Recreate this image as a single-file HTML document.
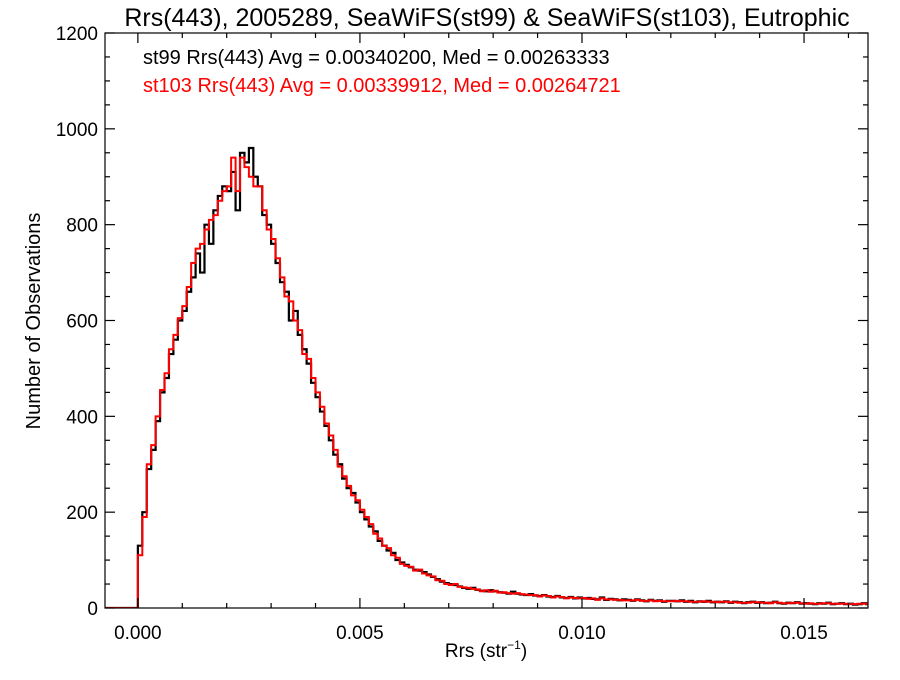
<!DOCTYPE html>
<html><head><meta charset="utf-8"><style>
body{margin:0;background:#fff}
svg text{font-family:"Liberation Sans",sans-serif}
</style></head><body>
<svg id="chart" width="900" height="675" viewBox="0 0 900 675">
<text x="487" y="26" font-size="25" text-anchor="middle">Rrs(443), 2005289, SeaWiFS(st99) &amp; SeaWiFS(st103), Eutrophic</text>
<text x="143" y="64" font-size="20">st99 Rrs(443) Avg = 0.00340200, Med = 0.00263333</text>
<text x="143" y="92" font-size="20" fill="#ff0000">st103 Rrs(443) Avg = 0.00339912, Med = 0.00264721</text>
<text x="486" y="657" font-size="19" text-anchor="middle">Rrs (str<tspan font-size="12" dy="-8">−1</tspan><tspan dy="8">)</tspan></text>
<text transform="translate(40,321) rotate(-90)" font-size="20" text-anchor="middle">Number of Observations</text>
<defs><clipPath id="pc"><rect x="105" y="33" width="763" height="575"/></clipPath></defs>
<g id="series" clip-path="url(#pc)"></g>
<g id="axes"></g>
</svg>
<script>
const binWidth = 0.0001;
const st99 = [130,200,290,330,390,450,480,530,560,600,
620,660,690,740,700,800,760,830,860,880,
870,910,830,950,930,960,900,880,820,800,
760,720,680,660,600,620,570,540,510,470,
440,410,380,350,320,300,270,250,240,220,
200,185,170,160,140,130,120,115,100,95,
90,85,80,78,75,70,65,60,55,52,
50,48,45,42,40,42,38,36,35,37,
35,33,32,30,34,30,28,27,29,26,
25,27,24,23,25,22,21,23,20,22,
20,21,19,18,22,17,19,18,16,18,
17,15,18,16,14,17,15,16,13,15,
15,14,16,13,15,12,14,13,15,12,
13,12,14,11,13,12,10,12,13,11,
12,10,11,13,10,9,11,10,12,9,
10,9,8,10,9,11,8,9,10,8,
9,7,8,10,8];
const st103 = [110,190,300,340,400,455,490,540,570,605,
630,670,720,750,760,790,810,820,850,870,
880,940,870,940,920,900,880,880,830,790,
770,730,690,650,640,600,580,530,520,480,
450,420,385,360,330,295,275,255,235,225,
205,190,175,155,145,130,125,110,105,92,
88,86,78,80,72,68,66,58,57,50,
48,50,44,43,42,40,39,35,37,34,
36,32,33,31,30,31,29,28,27,27,
24,26,25,22,24,23,20,22,21,20,
21,19,20,17,20,18,18,17,17,16,
16,16,17,15,15,16,14,15,14,14,
14,15,14,14,13,13,13,14,13,13,
12,13,13,12,12,11,11,11,12,12,
11,11,10,12,11,10,10,11,11,10,
9,10,9,9,10,10,9,9,9,9,
8,8,9,9,9];
const xTicks = [0.000,0.005,0.010,0.015];
const xTickLabels = ["0.000","0.005","0.010","0.015"];
const yTicks = [0,200,400,600,800,1000,1200];
const xMin=-0.00074, xMax=0.01644, yMin=0, yMax=1200;
const L=105,R=868,T=33,B=608;
const sx=v=>L+(v-xMin)/(xMax-xMin)*(R-L);
const sy=v=>B-(v-yMin)/(yMax-yMin)*(B-T);
const NS="http://www.w3.org/2000/svg";
function mk(t,a,p){const e=document.createElementNS(NS,t);for(const k in a)e.setAttribute(k,a[k]);p.appendChild(e);return e;}
function stepPath(arr){
  let d=`M${sx(xMin)},${sy(0)} L${sx(0)},${sy(0)}`;
  arr.forEach((v,i)=>{d+=` L${sx(i*binWidth)},${sy(v)} L${sx((i+1)*binWidth)},${sy(v)}`;});
  return d;
}
const sg=document.getElementById('series');
const p1=mk('path',{d:stepPath(st99),fill:'none',stroke:'#000','stroke-width':2.2},sg);


const p2=mk('path',{d:stepPath(st103),fill:'none',stroke:'#ff0000','stroke-width':2},sg);


const ag=document.getElementById('axes');
const frame=mk('rect',{x:L,y:T,width:R-L,height:B-T,fill:'none',stroke:'#000','stroke-width':1.2},ag);


for(let k=0;k<=16;k++){const v=k*0.001;const x=sx(v);const len=(k%5===0)?10:5;
  mk('line',{x1:x,x2:x,y1:B,y2:B-len,stroke:'#000','stroke-width':1.2},ag);
  mk('line',{x1:x,x2:x,y1:T,y2:T+len,stroke:'#000','stroke-width':1.2},ag);}
xTicks.forEach((v,i)=>{const t=mk('text',{x:sx(v),y:B+31,'font-size':19,'text-anchor':'middle'},ag);t.textContent=xTickLabels[i];
  
  });
for(let v=0;v<=1200;v+=50){const y=sy(v);const len=(v%200===0)?10:5;
  mk('line',{x1:L,x2:L+len,y1:y,y2:y,stroke:'#000','stroke-width':1.2},ag);
  mk('line',{x1:R,x2:R-len,y1:y,y2:y,stroke:'#000','stroke-width':1.2},ag);}
yTicks.forEach(v=>{const t=mk('text',{x:L-7,y:sy(v)+7,'font-size':19,'text-anchor':'end'},ag);t.textContent=v;
  
  });
</script>
</body></html>
